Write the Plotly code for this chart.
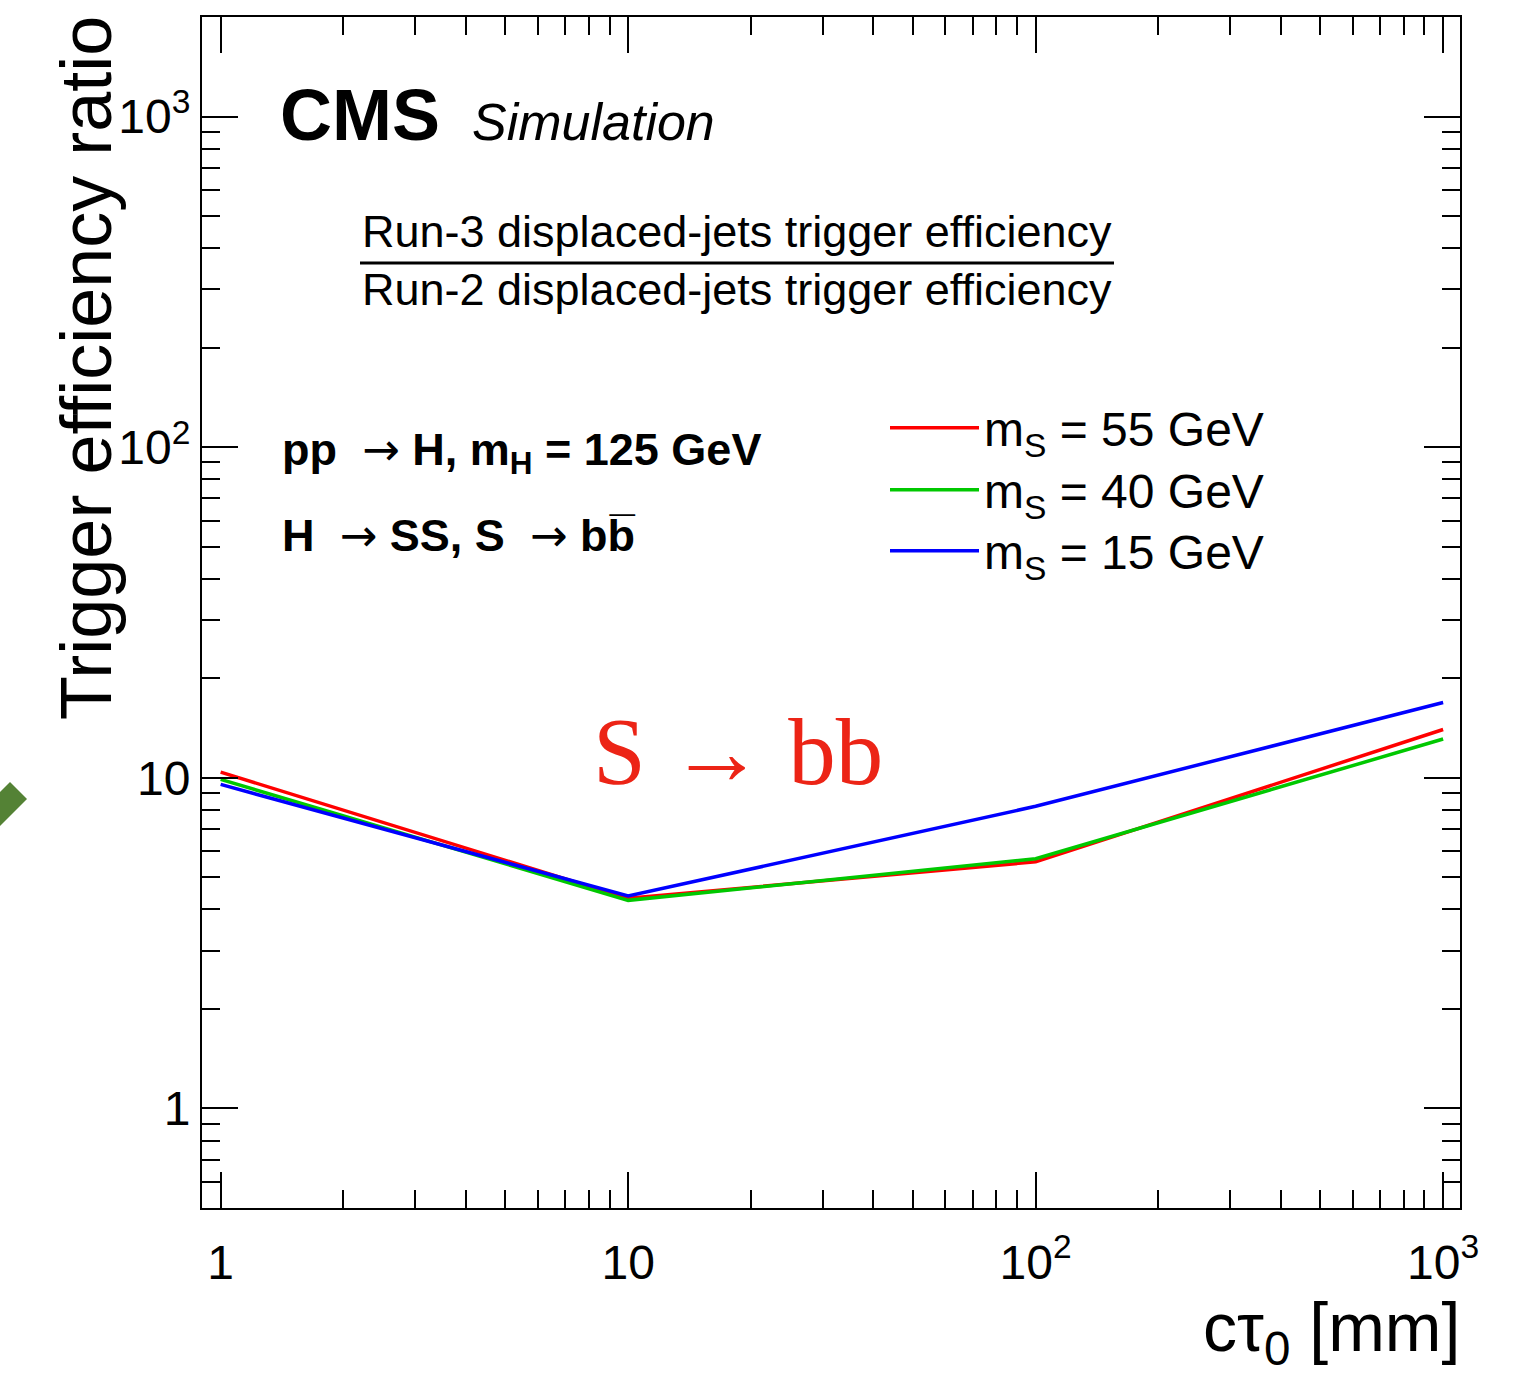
import plotly.graph_objects as go
import math

# ---------------- data ----------------
ctau_mm = [1, 10, 100, 1000]
ratio_ms55 = [10.4, 4.32, 5.57, 14.0]
ratio_ms40 = [9.89, 4.26, 5.69, 13.1]
ratio_ms15 = [9.55, 4.39, 8.20, 16.9]
series_names = ["m<sub>S</sub> = 55 GeV", "m<sub>S</sub> = 40 GeV", "m<sub>S</sub> = 15 GeV"]
series_colors = ["#ff0000", "#00c800", "#0000ff"]
x_tickvals = [1, 10, 100, 1000]
x_ticktext = ["1", "10", "10<sup>2</sup>", "10<sup>3</sup>"]
y_tickvals = [1, 10, 100, 1000]
y_ticktext = ["1", "10", "10<sup>2</sup>", "10<sup>3</sup>"]

W, H = 1516, 1376
L, R, T, B = 202, 1460, 17, 1208


def px(x):
    return (x - L) / (R - L)


def py(y):
    return (B - y) / (B - T)


SANS = "Liberation Sans, Arial, Helvetica, sans-serif"
SERIF = "Liberation Serif, Times New Roman, serif"
ARROW = '<span style="font-family:DejaVu Sans;font-weight:normal">→</span>'

legend_ids = ["legend", "legend2", "legend3"]
legend_tops = [390, 452, 513]

fig = go.Figure()
for yv, name, col, lg in zip([ratio_ms55, ratio_ms40, ratio_ms15], series_names,
                             series_colors, legend_ids):
    fig.add_trace(go.Scatter(x=ctau_mm, y=yv, mode="lines", name=name, legend=lg,
                             line=dict(color=col, width=3.5)))

axis_common = dict(
    type="log", showgrid=False, zeroline=False,
    showline=True, linecolor="black", linewidth=2, mirror="allticks",
    ticks="inside", ticklen=36, tickwidth=2, tickcolor="black",
    tickmode="array",
    tickfont=dict(family=SANS, size=48, color="black"),
    minor=dict(ticks="inside", ticklen=18, tickwidth=2, tickcolor="black",
               dtick="D1", showgrid=False),
)

fig.update_xaxes(**axis_common, tickvals=x_tickvals, ticktext=x_ticktext,
                 range=[math.log10(0.9), math.log10(1100)], ticklabelstandoff=11)
fig.update_yaxes(**axis_common, tickvals=y_tickvals, ticktext=y_ticktext,
                 range=[math.log10(0.5), math.log10(2000)], ticklabelstandoff=0)

ann = []
# axis titles
ann.append(dict(text="Trigger efficiency ratio", xref="paper", yref="paper",
                x=px(86), y=py(14), xanchor="center", yanchor="top", textangle=-90,
                showarrow=False, font=dict(family=SANS, size=72, color="black")))
ann.append(dict(text="cτ<sub>0</sub> [mm]", xref="paper", yref="paper",
                x=px(1462), y=py(1332), xanchor="right", yanchor="middle",
                showarrow=False, font=dict(family=SANS, size=68, color="black")))
# CMS label
ann.append(dict(text="<b>CMS</b>", xref="paper", yref="paper",
                x=px(278), y=py(115), xanchor="left", yanchor="middle",
                showarrow=False, font=dict(family=SANS, size=72, color="black")))
ann.append(dict(text="<i>Simulation</i>", xref="paper", yref="paper",
                x=px(470), y=py(122), xanchor="left", yanchor="middle",
                showarrow=False, font=dict(family=SANS, size=52, color="black")))
# fraction
ann.append(dict(text="Run-3 displaced-jets trigger efficiency", xref="paper", yref="paper",
                x=px(737), y=py(231), xanchor="center", yanchor="middle",
                showarrow=False, font=dict(family=SANS, size=45, color="black")))
ann.append(dict(text="Run-2 displaced-jets trigger efficiency", xref="paper", yref="paper",
                x=px(737), y=py(289), xanchor="center", yanchor="middle",
                showarrow=False, font=dict(family=SANS, size=45, color="black")))
# process labels
ann.append(dict(text="<b>pp  " + ARROW + " H, m<sub>H</sub> = 125 GeV</b>", xref="paper", yref="paper",
                x=px(280), y=py(452), xanchor="left", yanchor="middle",
                showarrow=False, font=dict(family=SANS, size=45, color="black")))
ann.append(dict(text="<b>H  " + ARROW + " SS, S  " + ARROW + " bb\u0305</b>", xref="paper", yref="paper",
                x=px(280), y=py(535), xanchor="left", yanchor="middle",
                showarrow=False, font=dict(family=SANS, size=45, color="black")))
# red decay label
ann.append(dict(text="S → bb", xref="paper", yref="paper",
                x=px(738), y=py(752), xanchor="center", yanchor="middle",
                showarrow=False, font=dict(family=SERIF, size=95, color="#ec2416")))

shapes = [
    dict(type="line", xref="paper", yref="paper", x0=px(360), x1=px(1114),
         y0=py(263), y1=py(263), line=dict(color="black", width=3)),
    dict(type="path", xref="paper", yref="paper",
         path="M {:.4f},{:.4f} L {:.4f},{:.4f} L {:.4f},{:.4f} L {:.4f},{:.4f} Z".format(
             px(0), py(792), px(10), py(782), px(27), py(799), px(0), py(826)),
         fillcolor="#548235", line=dict(width=0)),
]

legend_style = dict(xanchor="left", yanchor="top", bgcolor="rgba(0,0,0,0)", borderwidth=0,
                    font=dict(family=SANS, size=48, color="black"), itemwidth=89)

layout_legends = {}
for lg, top in zip(legend_ids, legend_tops):
    layout_legends[lg] = dict(x=px(885), y=py(top), **legend_style)

fig.update_layout(
    width=W, height=H,
    margin=dict(l=L, r=W - R, t=T, b=H - B, pad=0),
    paper_bgcolor="white", plot_bgcolor="white",
    showlegend=True,
    annotations=ann, shapes=shapes,
    **layout_legends,
)

fig.write_html("out.html")
